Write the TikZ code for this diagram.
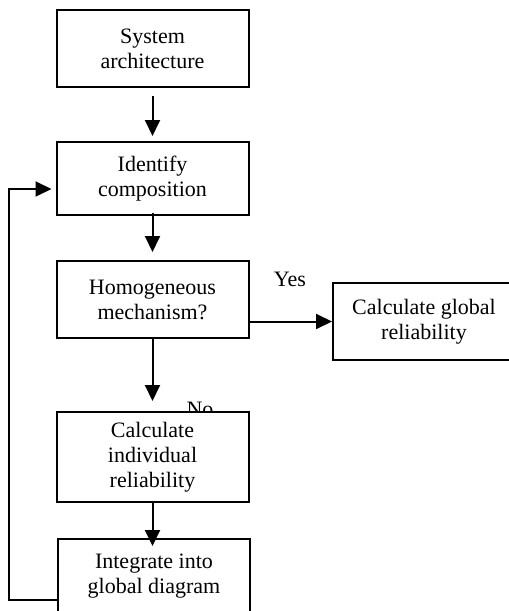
\documentclass[tikz,border=0pt]{standalone}
\usepackage{fontspec}
\setmainfont{Liberation Serif}
\usetikzlibrary{arrows.meta}
\begin{document}
\begin{tikzpicture}[x=0.5pt,y=-0.5pt,line width=1pt,
    font=\fontsize{11}{12.5}\selectfont,
    >={Triangle[width=7.5pt,length=8pt]}]

      \useasboundingbox (0,0) rectangle (509,611);
      \clip (0,0) rectangle (509,611);

      \node (yes) at (290,279) {Yes};
      \node (no)  at (200,409) {No};

      \begin{scope}[every node/.style={draw,fill=white,align=center,inner sep=0pt,minimum width=96pt}]
        \node[minimum height=38.5pt] (sys)   at (152.5,48.5) {System\\architecture};
        \node[minimum height=36.5pt] (ident) at (152.5,178.5) {Identify\\composition};
        \node[minimum height=38.5pt] (homo)  at (152.5,299.5) {Homogeneous\\mechanism?};
        \node[minimum height=38.5pt,minimum width=91pt] (calcg) at (424,321.5) {Calculate global\\reliability};
        \node[minimum height=45pt]   (calci) at (152.5,457) {Calculate\\individual\\reliability};
        \node[minimum height=37pt]   (integ) at (154,576) {Integrate into\\global diagram};
      \end{scope}

      \coordinate (low) at (9,600);
      \coordinate (up)  at (9,189);

      \draw[->,shorten <=4pt,shorten >=2.5pt] (sys.south) -- (sys.south |- ident.north);
      \draw[->,shorten <=-1.5pt,shorten >=4pt] (ident.south) -- (ident.south |- homo.north);
      \draw[->,shorten >=5pt] (homo.south) -- (homo.south |- calci.north);
      \draw[->,shorten >=-4pt] (calci.south) -- (calci.south |- integ.north);
      \draw[->] (homo.east |- calcg.west) -- (calcg.west);
      \draw[->,shorten >=2pt] (integ.west |- low) -- (low) -- (up) -- (ident.west |- up);

    \end{tikzpicture}
\end{document}
